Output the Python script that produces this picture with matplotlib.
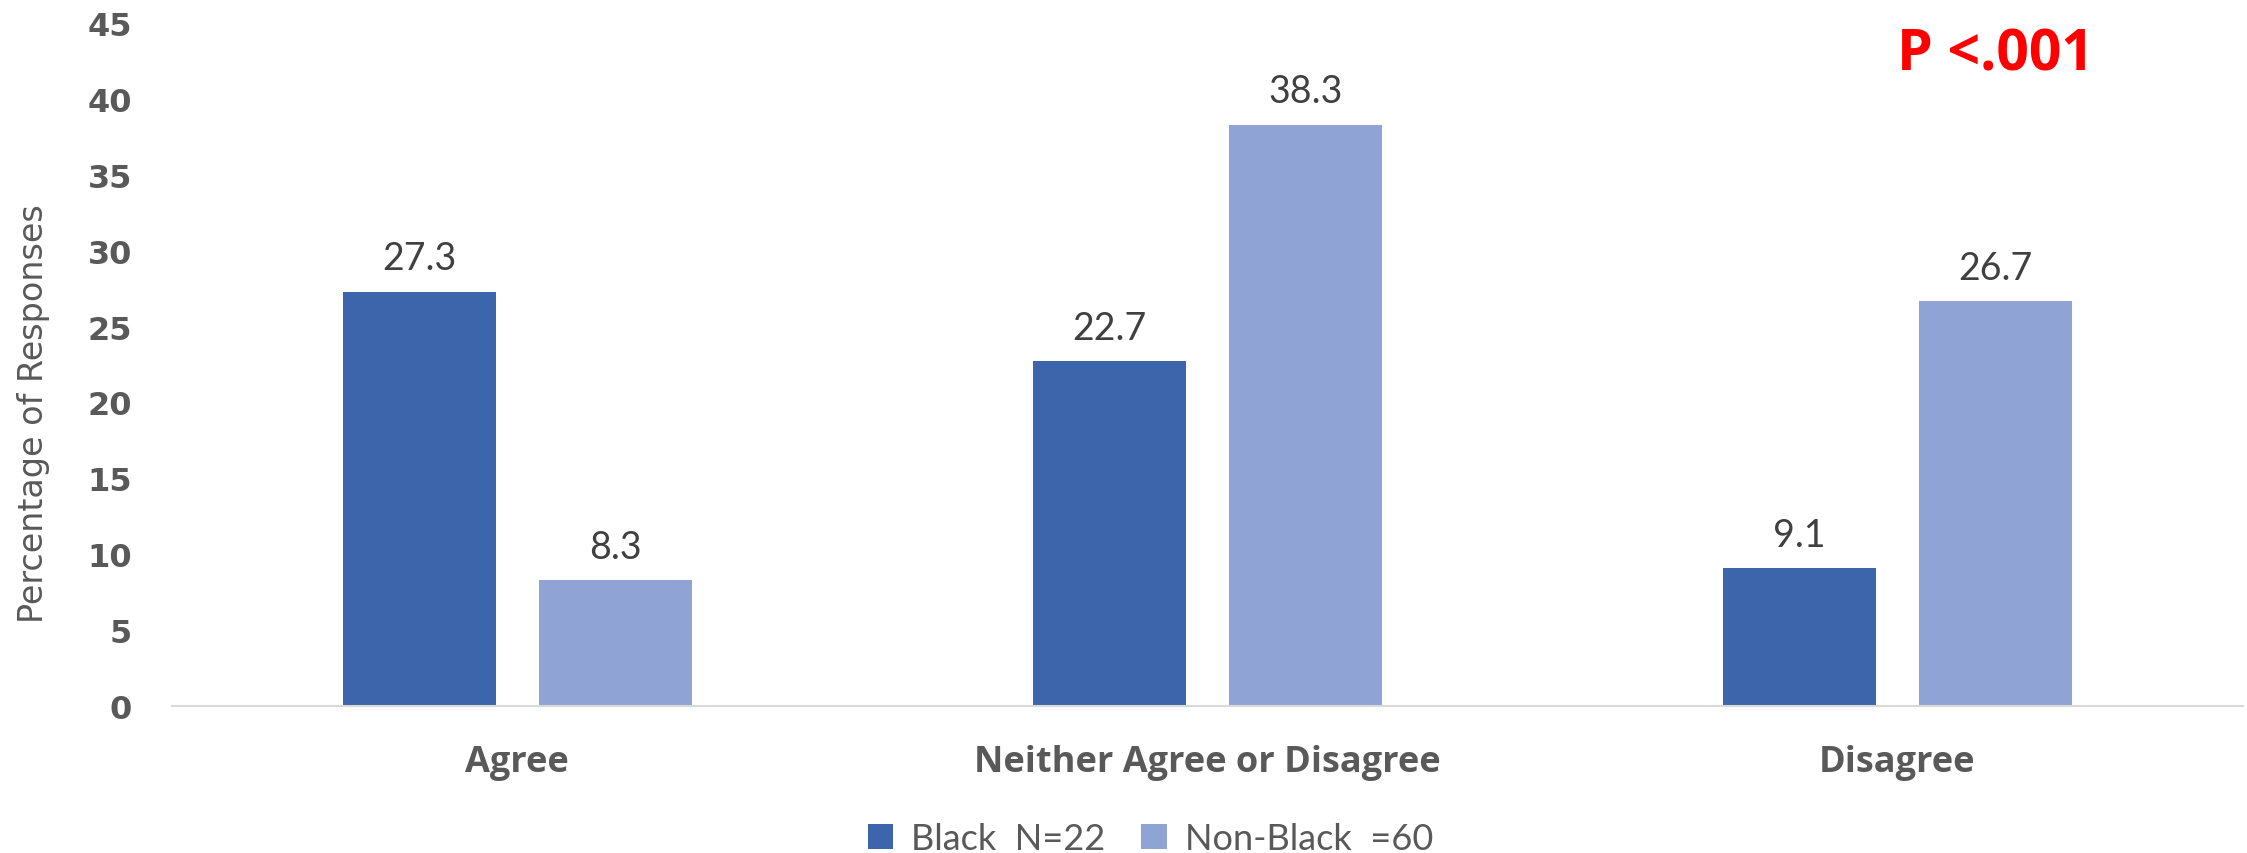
import numpy as np
import matplotlib.pyplot as plt

# data
categories = ['Agree', 'Neither Agree or Disagree', 'Disagree']
black = [27.3, 22.7, 9.1]
non_black = [8.3, 38.3, 26.7]
series_names = ['Black  N=22', 'Non-Black  =60']
y_ticks = [0, 5, 10, 15, 20, 25, 30, 35, 40, 45]

dark = '#3D65AB'
light = '#8FA4D4'
grey = '#595959'

fig = plt.figure(figsize=(22.47, 8.54), dpi=100)
ax = fig.add_axes([0.0766, 0.172, 0.9214, 0.8])

x = np.arange(len(categories))
w = 0.222
off = 0.142
b1 = ax.bar(x - off, black, w, color=dark, label=series_names[0])
b2 = ax.bar(x + off, non_black, w, color=light, label=series_names[1])

# value labels
for bars in (b1, b2):
    for r in bars:
        ax.text(r.get_x() + r.get_width() / 2, r.get_height() + 1.0,
                f'{r.get_height():.1f}', ha='center', va='bottom',
                fontsize=27, color='#404040', family='Lato')

ax.set_xlim(-0.5, 2.5)
ax.set_ylim(0, 45)
ax.set_yticks(y_ticks)
ax.set_yticklabels([str(t) for t in y_ticks], fontsize=23, fontweight='bold',
                   color=grey, family='DejaVu Sans')
ax.set_xticks(x)
ax.set_xticklabels(categories, fontsize=26, fontweight='bold', color=grey,
                   family='Open Sans')
ax.tick_params(axis='both', length=0)
ax.tick_params(axis='y', pad=29)
ax.tick_params(axis='x', pad=27)

for s in ['top', 'right', 'left']:
    ax.spines[s].set_visible(False)
ax.spines['bottom'].set_color('#D9D9D9')
ax.spines['bottom'].set_linewidth(1.5)

ax.set_ylabel('Percentage of Responses', fontsize=24, color=grey,
              family=['Liberation Sans Narrow', 'DejaVu Sans'])
ax.yaxis.set_label_coords(-0.059, 0.43)

fig.text(0.888, 0.935, 'P <.001', color='#FF0000', fontsize=41,
         fontweight='bold', family='Open Sans', ha='center', va='center')

fig.legend(handles=[b1, b2], loc='center', bbox_to_anchor=(0.512, 0.017),
           ncol=2, frameon=False, handlelength=0.7,
           handleheight=0.7, columnspacing=1.0, handletextpad=0.5,
           labelcolor=grey, prop={'family': 'Lato', 'size': 26})

fig.savefig('out.png', dpi=100)
